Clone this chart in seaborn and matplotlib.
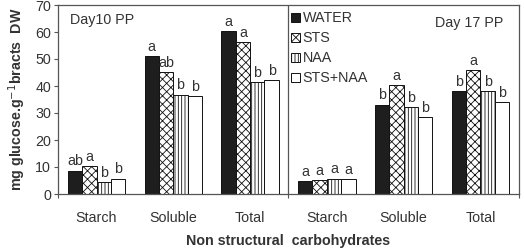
import pandas as pd
import seaborn as sns
import matplotlib.pyplot as plt
from matplotlib.ticker import FixedLocator

# data
groups = ['D10 Starch', 'D10 Soluble', 'D10 Total', 'D17 Starch', 'D17 Soluble', 'D17 Total']
group_labels = ['Starch', 'Soluble', 'Total', 'Starch', 'Soluble', 'Total']
treatments = ['WATER', 'STS', 'NAA', 'STS+NAA']

water = [8.7, 51.0, 60.2, 4.9, 33.1, 38.1]
sts = [10.4, 45.2, 56.2, 5.2, 40.2, 45.8]
naa = [4.4, 36.8, 41.3, 5.7, 32.2, 38.1]
sts_naa = [5.7, 36.3, 42.2, 5.4, 28.5, 33.9]

letters_water = ['ab', 'a', 'a', 'a', 'b', 'b']
letters_sts = ['a', 'ab', 'a', 'a', 'a', 'a']
letters_naa = ['b', 'b', 'b', 'a', 'b', 'b']
letters_sts_naa = ['b', 'b', 'b', 'a', 'b', 'b']


def main() -> None:
    sns.set_theme(style='ticks')
    plt.rcParams['font.family'] = ['Liberation Sans', 'DejaVu Sans']
    plt.rcParams['hatch.linewidth'] = 0.6
    txt = '#333333'
    fs = 10.3

    values = [water, sts, naa, sts_naa]
    letters = [letters_water, letters_sts, letters_naa, letters_sts_naa]
    rows = []
    for t, vals in zip(treatments, values):
        for g, v in zip(groups, vals):
            rows.append({'group': g, 'treatment': t, 'value': v})
    df = pd.DataFrame(rows)

    fig = plt.figure(figsize=(5.24, 2.5), dpi=100)
    ax = fig.add_axes([0.111, 0.224, 0.879, 0.756])

    pal = {'WATER': '#1e1e1e', 'STS': 'white', 'NAA': 'white', 'STS+NAA': 'white'}
    sns.barplot(data=df, x='group', y='value', hue='treatment', order=groups,
                hue_order=treatments, palette=pal, width=0.75, saturation=1,
                edgecolor='#111111', linewidth=0.7, legend=False, ax=ax)

    hatches = [None, 'xxxx', '|||||', None]
    for cont, h, labs in zip(ax.containers, hatches, letters):
        for bar, lab in zip(cont, labs):
            if h:
                bar.set_hatch(h)
            ax.text(bar.get_x() + bar.get_width() / 2, bar.get_height() + 0.8, lab,
                    ha='center', va='bottom', fontsize=fs, color=txt)

    ax.set_ylim(0, 70)
    ax.set_xlim(-0.5, 5.5)
    ax.set_yticks(range(0, 71, 10))
    ax.set_xticks(range(6))
    ax.set_xticklabels(group_labels)
    ax.xaxis.set_minor_locator(FixedLocator([-0.5, 2.5, 5.5]))
    ax.tick_params(axis='x', which='major', length=0, pad=12, labelsize=fs, labelcolor=txt)
    ax.tick_params(axis='x', which='minor', length=3, width=0.8, color='#555555')
    ax.tick_params(axis='y', length=3, width=0.8, color='#555555', labelsize=fs,
                   labelcolor=txt, pad=2)
    ax.axvline(2.5, color='#555555', linewidth=0.9)

    for s in ax.spines.values():
        s.set_visible(True)
        s.set_color('#555555')
        s.set_linewidth(0.9)

    ax.set_ylabel('mg glucose.g$^{-1}$bracts  DW', fontsize=fs, fontweight='bold',
                  color=txt, labelpad=5)
    ax.set_xlabel('Non structural  carbohydrates', fontsize=fs, fontweight='bold',
                  color=txt, labelpad=7)

    ax.text(0.026, 0.92, 'Day10 PP', transform=ax.transAxes, fontsize=fs,
            color=txt, va='center', ha='left')
    ax.text(0.818, 0.905, 'Day 17 PP', transform=ax.transAxes, fontsize=fs,
            color=txt, va='center', ha='left')

    leg = ax.legend(handles=ax.containers, labels=treatments, loc='upper left',
                    bbox_to_anchor=(0.503, 0.975), frameon=False, fontsize=fs,
                    handlelength=0.6, handleheight=0.6, handletextpad=0.2,
                    labelspacing=0.42, borderpad=0.1, borderaxespad=0)
    for t in leg.get_texts():
        t.set_color(txt)

    fig.savefig('out.png', dpi=100)


if __name__ == "__main__":
    main()
